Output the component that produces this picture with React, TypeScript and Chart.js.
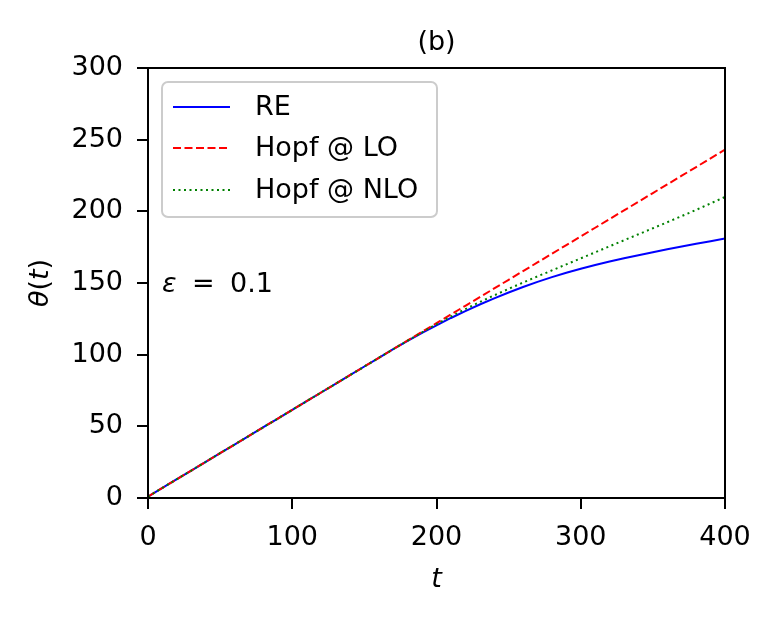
import { useEffect, useRef } from "react";
import { Chart, registerables, Plugin } from "chart.js";

Chart.register(...registerables);

// values (t every 10)
const times = [
  0, 10, 20, 30, 40, 50, 60, 70, 80, 90, 100, 110, 120, 130, 140, 150, 160, 170, 180, 190, 200,
  210, 220, 230, 240, 250, 260, 270, 280, 290, 300, 310, 320, 330, 340, 350, 360, 370, 380, 390, 400,
];
const thetaRE = [
  1, 7.05, 13.1, 19.15, 25.2, 31.25, 37.3, 43.35, 49.4, 55.45, 61.5, 67.55, 73.6, 79.65, 85.7, 91.75, 97.8, 103.8, 109.6, 115.2, 120.5,
  125.6, 130.4, 135.0, 139.3, 143.4, 147.2, 150.8, 154.1, 157.2, 160.0, 162.6, 165.0, 167.3, 169.4, 171.5, 173.5, 175.5, 177.4, 179.2, 181.0,
];
const thetaLO = [
  1, 7.05, 13.1, 19.15, 25.2, 31.25, 37.3, 43.35, 49.4, 55.45, 61.5, 67.55, 73.6, 79.65, 85.7, 91.75, 97.8, 103.85, 109.9, 115.95, 122,
  128.05, 134.1, 140.15, 146.2, 152.25, 158.3, 164.35, 170.4, 176.45, 182.5, 188.55, 194.6, 200.65, 206.7, 212.75, 218.8, 224.85, 230.9, 236.95, 243,
];
const thetaNLO = [
  1, 7.05, 13.1, 19.15, 25.2, 31.25, 37.3, 43.35, 49.4, 55.45, 61.5, 67.55, 73.6, 79.65, 85.7, 91.75, 97.8, 103.8, 109.8, 115.6, 121.2,
  126.6, 131.8, 136.7, 141.4, 145.9, 150.3, 154.6, 158.8, 163.0, 167.2, 171.4, 175.6, 179.8, 184.0, 188.2, 192.4, 196.7, 201.0, 205.5, 210,
];

const xTicks = [0, 100, 200, 300, 400];
const yTicks = [0, 50, 100, 150, 200, 250, 300];

const legendItems = [
  { label: "RE", color: "#0000ff", dash: [] as number[] },
  { label: "Hopf @ LO", color: "#ff0000", dash: [8, 3.5] },
  { label: "Hopf @ NLO", color: "#008000", dash: [2, 3.5] },
];

const FONT = "'DejaVu Sans', sans-serif";

const decorPlugin: Plugin = {
  id: "decor",
  afterDraw(chart) {
    const ctx = chart.ctx;
    const a = chart.chartArea;
    ctx.save();

    // top + right spines
    ctx.strokeStyle = "#000";
    ctx.lineWidth = 2;
    ctx.strokeRect(a.left, a.top, a.right - a.left, a.bottom - a.top);

    ctx.fillStyle = "#000";
    ctx.textBaseline = "alphabetic";

    // title
    ctx.font = `27px ${FONT}`;
    ctx.textAlign = "center";
    ctx.fillText("(b)", (a.left + a.right) / 2, 50);

    // x axis title
    ctx.font = `italic 27px ${FONT}`;
    ctx.fillText("t", (a.left + a.right) / 2, 587);

    // y axis title, rotated
    ctx.save();
    ctx.translate(48, (a.top + a.bottom) / 2);
    ctx.rotate(-Math.PI / 2);
    const parts = [
      { s: "θ", it: true },
      { s: "(", it: false },
      { s: "t", it: true },
      { s: ")", it: false },
    ];
    let total = 0;
    const widths = parts.map((p) => {
      ctx.font = `${p.it ? "italic " : ""}27px ${FONT}`;
      const w = ctx.measureText(p.s).width;
      total += w;
      return w;
    });
    let px = -total / 2;
    ctx.textAlign = "left";
    parts.forEach((p, i) => {
      ctx.font = `${p.it ? "italic " : ""}27px ${FONT}`;
      ctx.fillText(p.s, px, 0);
      px += widths[i];
    });
    ctx.restore();

    // epsilon annotation
    ctx.textAlign = "left";
    ctx.font = `italic 27px ${FONT}`;
    ctx.fillText("ε", 162, 292);
    ctx.font = `27px ${FONT}`;
    ctx.fillText("=", 192, 292);
    ctx.fillText("0.1", 230, 292);

    // legend
    const lx = 162, ly = 82, lw = 275, lh = 135, r = 6;
    ctx.beginPath();
    ctx.roundRect(lx, ly, lw, lh, r);
    ctx.fillStyle = "rgba(255,255,255,0.8)";
    ctx.fill();
    ctx.strokeStyle = "#cccccc";
    ctx.lineWidth = 2;
    ctx.stroke();

    const rows = [107, 148, 190];
    legendItems.forEach((item, i) => {
      ctx.beginPath();
      ctx.setLineDash(item.dash);
      ctx.strokeStyle = item.color;
      ctx.lineWidth = 2;
      ctx.moveTo(173, rows[i]);
      ctx.lineTo(230, rows[i]);
      ctx.stroke();
      ctx.setLineDash([]);
      ctx.fillStyle = "#000";
      ctx.font = `27px ${FONT}`;
      ctx.textBaseline = "middle";
      ctx.fillText(item.label, 255, rows[i] + 1);
    });

    ctx.restore();
  },
};

export default function App() {
  const canvasRef = useRef<HTMLCanvasElement>(null);

  useEffect(() => {
    if (!canvasRef.current) return;
    const points = (ys: number[]) => times.map((t, i) => ({ x: t, y: ys[i] }));

    const chart = new Chart(canvasRef.current, {
      type: "line",
      data: {
        datasets: [
          {
            label: "RE",
            data: points(thetaRE),
            borderColor: "#0000ff",
            borderWidth: 2,
            pointRadius: 0,
            order: 3,
          },
          {
            label: "Hopf @ LO",
            data: points(thetaLO),
            borderColor: "#ff0000",
            borderWidth: 2,
            borderDash: [8, 3.5],
            pointRadius: 0,
            order: 2,
          },
          {
            label: "Hopf @ NLO",
            data: points(thetaNLO),
            borderColor: "#008000",
            borderWidth: 2,
            borderDash: [2, 3.5],
            pointRadius: 0,
            order: 1,
          },
        ],
      },
      options: {
        animation: false,
        responsive: true,
        maintainAspectRatio: false,
        layout: { padding: { left: 0, top: 68, right: 52, bottom: 0 } },
        plugins: {
          legend: { display: false },
          title: { display: false },
          tooltip: { enabled: false },
        },
        scales: {
          x: {
            type: "linear",
            min: 0,
            max: 400,
            afterBuildTicks: (s) => {
              s.ticks = xTicks.map((v) => ({ value: v }));
            },
            afterFit: (s) => {
              s.height = 121;
            },
            grid: {
              drawOnChartArea: false,
              drawTicks: true,
              tickLength: 11,
              color: "#000",
              lineWidth: 2,
            },
            border: { display: true, color: "#000", width: 2 },
            ticks: {
              color: "#000",
              font: { family: FONT, size: 27 },
              padding: 13,
              maxRotation: 0,
            },
          },
          y: {
            type: "linear",
            min: 0,
            max: 300,
            afterBuildTicks: (s) => {
              s.ticks = yTicks.map((v) => ({ value: v }));
            },
            afterFit: (s) => {
              s.width = 148;
            },
            grid: {
              drawOnChartArea: false,
              drawTicks: true,
              tickLength: 11,
              color: "#000",
              lineWidth: 2,
            },
            border: { display: true, color: "#000", width: 2 },
            ticks: {
              color: "#000",
              font: { family: FONT, size: 27 },
              padding: 14,
            },
          },
        },
      },
      plugins: [decorPlugin],
    });

    return () => chart.destroy();
  }, []);

  return (
    <div style={{ position: "fixed", left: 0, top: 0, width: 777, height: 619, background: "#fff" }}>
      <canvas ref={canvasRef} />
    </div>
  );
}
